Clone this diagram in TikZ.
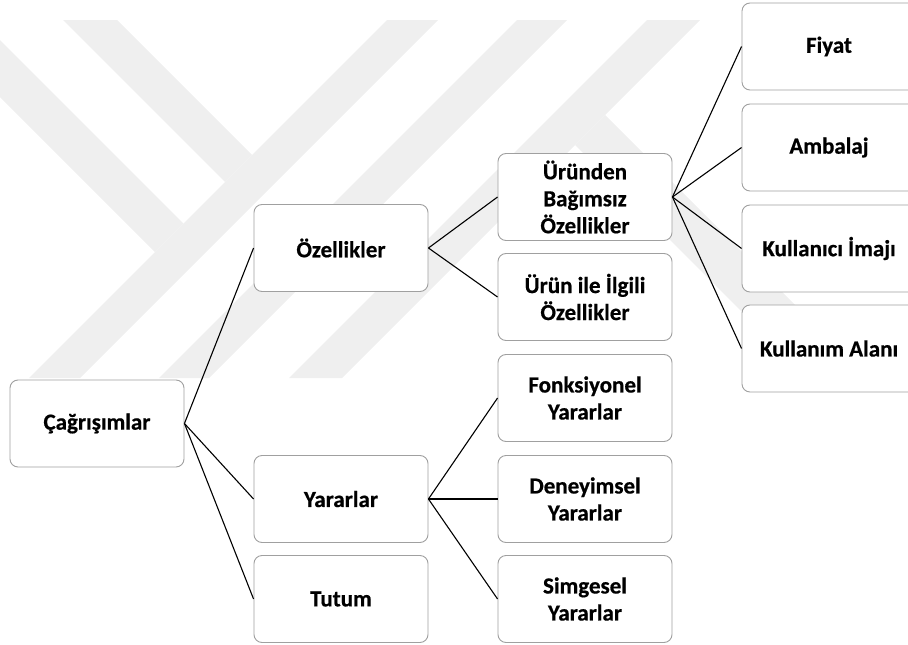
\documentclass[tikz,border=0pt]{standalone}
\usepackage{fontspec}
\setmainfont{Carlito}[BoldFeatures={FakeBold=0.6}]
\definecolor{wm}{RGB}{239,239,239}
\definecolor{boxline}{RGB}{160,160,160}
\begin{document}
\begin{tikzpicture}[x=1pt,y=-1pt,
  box/.style={draw=boxline, line width=0.9pt, rounded corners=8pt, fill=white,
    minimum width=174pt, minimum height=87pt, align=center, inner sep=2pt,
    font=\fontsize{23}{27}\selectfont\bfseries},
  link/.style={draw=black, line width=1.1pt}]
\useasboundingbox (0,0) rectangle (908,645);

% faint striped emblem in the background
\fill[wm] (63,20) -- (117,20) -- (252,155) -- (225,182) -- cycle;
\fill[wm] (0,40) -- (183.5,223.5) -- (155,252) -- (0,97) -- cycle;
\fill[wm] (387,20) -- (438,20) -- (80,378) -- (29,378) -- cycle;
\fill[wm] (517,20) -- (567,20) -- (209,378) -- (159,378) -- cycle;
\fill[wm] (647,20) -- (700,20) -- (342,378) -- (289,378) -- cycle;
\fill[wm] (575,145) -- (605,115) -- (868,378) -- (808,378) -- cycle;

% first level
\node[box] (cag) at (97,423.5) {Çağrışımlar};

% second level
\node[box] (oz)  at (341,248) {Özellikler};
\node[box] (yar) at (341,499) {Yararlar};
\node[box] (tut) at (341,599) {Tutum};

% third level
\node[box] (ub) at (585,197) {Üründen\\Bağımsız\\Özellikler};
\node[box] (ui) at (585,297) {Ürün ile İlgili\\Özellikler};
\node[box] (fy) at (585,398) {Fonksiyonel\\Yararlar};
\node[box] (dy) at (585,499) {Deneyimsel\\Yararlar};
\node[box] (sy) at (585,599) {Simgesel\\Yararlar};

% fourth level
\node[box] (fiyat) at (829,46.5)  {Fiyat};
\node[box] (amb)   at (829,147.5) {Ambalaj};
\node[box] (kim)   at (829,248.5) {Kullanıcı İmajı};
\node[box] (kal)   at (829,348.5) {Kullanım Alanı};

% connectors
\foreach \t in {oz,yar,tut} \draw[link] (cag.east) -- (\t.west);
\foreach \t in {ub,ui} \draw[link] (oz.east) -- (\t.west);
\foreach \t in {fy,dy,sy} \draw[link] (yar.east) -- (\t.west);
\foreach \t in {fiyat,amb,kim,kal} \draw[link] (ub.east) -- (\t.west);
\end{tikzpicture}
\end{document}
